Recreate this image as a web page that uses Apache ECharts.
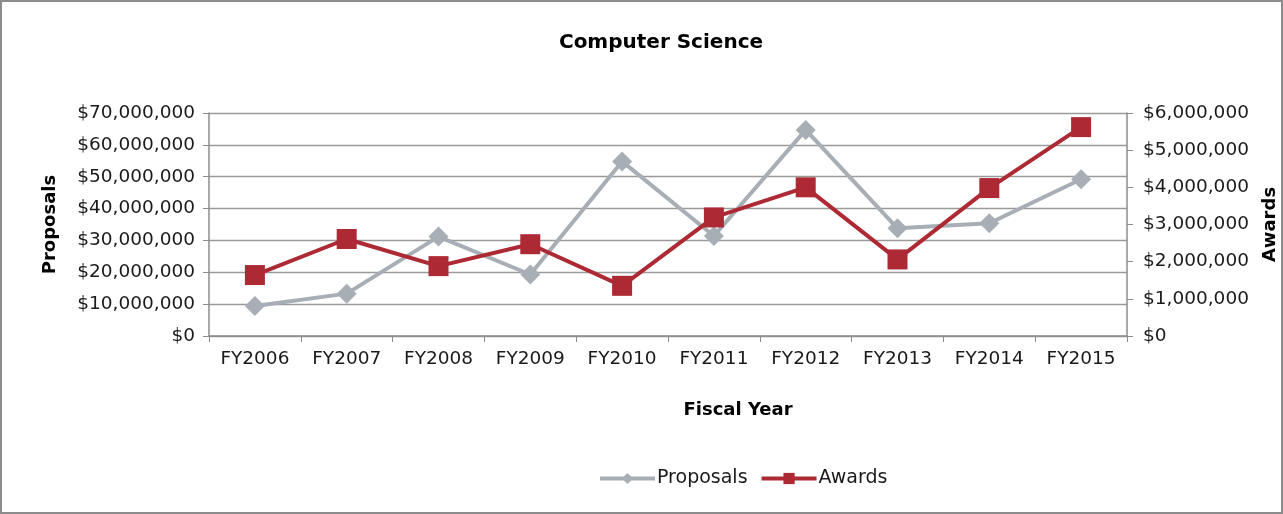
<!DOCTYPE html>
<html>
<head>
<meta charset="utf-8">
<script src="https://cdn.jsdelivr.net/npm/echarts@6/dist/echarts.min.js"></script>
<style>
  html, body { margin: 0; padding: 0; background: #fff; }
  #chart { width: 1283px; height: 514px; }
</style>
</head>
<body>
<div id="chart"></div>
<script>
const years = ["FY2006", "FY2007", "FY2008", "FY2009", "FY2010", "FY2011", "FY2012", "FY2013", "FY2014", "FY2015"];
// in dollars
const proposals = [9400000, 13300000, 31200000, 19300000, 54800000, 31400000, 64700000, 33800000, 35400000, 49200000];
const awards = [1640000, 2610000, 1880000, 2470000, 1350000, 3190000, 4000000, 2060000, 3980000, 5620000];

const font = "DejaVu Sans";
const grayCol = "#a7aeb5";
const redCol = "#ad2a35";
const axisCol = "#8c8c8c";
const textCol = "#1a1a1a";

const money = (v) => "$" + Number(v).toLocaleString("en-US");

const chart = echarts.init(document.getElementById("chart"));

chart.setOption({
  animation: false,
  textStyle: { fontFamily: font },
  title: {
    text: "Computer Science",
    left: 656,
    top: 28,
    textAlign: "center",
    textStyle: { fontFamily: font, fontSize: 20, fontWeight: "bold", color: "#000" },
  },
  graphic: [
    {
      type: "rect",
      shape: { x: 1, y: 1, width: 1281, height: 512 },
      style: { fill: null, stroke: axisCol, lineWidth: 2 },
      silent: true,
    },
  ],
  legend: {
    bottom: 21,
    left: 593,
    itemWidth: 55,
    itemHeight: 14,
    itemGap: 12,
    lineStyle: { width: 4 },
    textStyle: { fontFamily: font, fontSize: 19, color: textCol, padding: [0, 0, 0, -3] },
    data: ["Proposals", "Awards"],
  },
  grid: { left: 209, right: 156, top: 113, bottom: 178, outerBoundsMode: "none", containLabel: false },
  xAxis: {
    type: "category",
    data: years,
    boundaryGap: true,
    name: "Fiscal Year",
    nameLocation: "middle",
    nameGap: 65,
    nameTextStyle: { fontFamily: font, fontSize: 18, fontWeight: "bold", color: "#000", padding: [0, 0, 0, 140] },
    axisLine: { lineStyle: { color: axisCol, width: 1.5 } },
    axisTick: { show: true, length: 6, lineStyle: { color: axisCol } },
    axisLabel: { color: textCol, fontSize: 18.5, margin: 14 },
  },
  yAxis: [
    {
      type: "value",
      min: 0,
      max: 70000000,
      interval: 10000000,
      position: "left",
      name: "Proposals",
      nameLocation: "middle",
      nameGap: 150,
      nameTextStyle: { fontFamily: font, fontSize: 18, fontWeight: "bold", color: "#000" },
      axisLine: { show: true, lineStyle: { color: axisCol, width: 1.5 } },
      axisTick: { show: true, length: 6, lineStyle: { color: axisCol } },
      axisLabel: { color: textCol, fontSize: 18.5, margin: 14, formatter: money },
      splitLine: { show: true, lineStyle: { color: "#9a9a9a", width: 1.3 } },
    },
    {
      type: "value",
      min: 0,
      max: 6000000,
      interval: 1000000,
      position: "right",
      name: "Awards",
      nameLocation: "middle",
      nameGap: 134,
      nameRotate: 90,
      nameTextStyle: { fontFamily: font, fontSize: 18, fontWeight: "bold", color: "#000" },
      axisLine: { show: true, lineStyle: { color: axisCol, width: 1.5 } },
      axisTick: { show: true, length: 6, lineStyle: { color: axisCol } },
      axisLabel: { color: textCol, fontSize: 18.5, margin: 16, formatter: money },
      splitLine: { show: false },
    },
  ],
  series: [
    {
      name: "Proposals",
      type: "line",
      yAxisIndex: 0,
      data: proposals,
      symbol: "diamond",
      symbolSize: 20,
      color: grayCol,
      lineStyle: { width: 4, color: grayCol },
      itemStyle: { color: grayCol },
    },
    {
      name: "Awards",
      type: "line",
      yAxisIndex: 1,
      data: awards,
      symbol: "rect",
      symbolSize: 20,
      color: redCol,
      lineStyle: { width: 4, color: redCol },
      itemStyle: { color: redCol },
    },
  ],
});
</script>
</body>
</html>
